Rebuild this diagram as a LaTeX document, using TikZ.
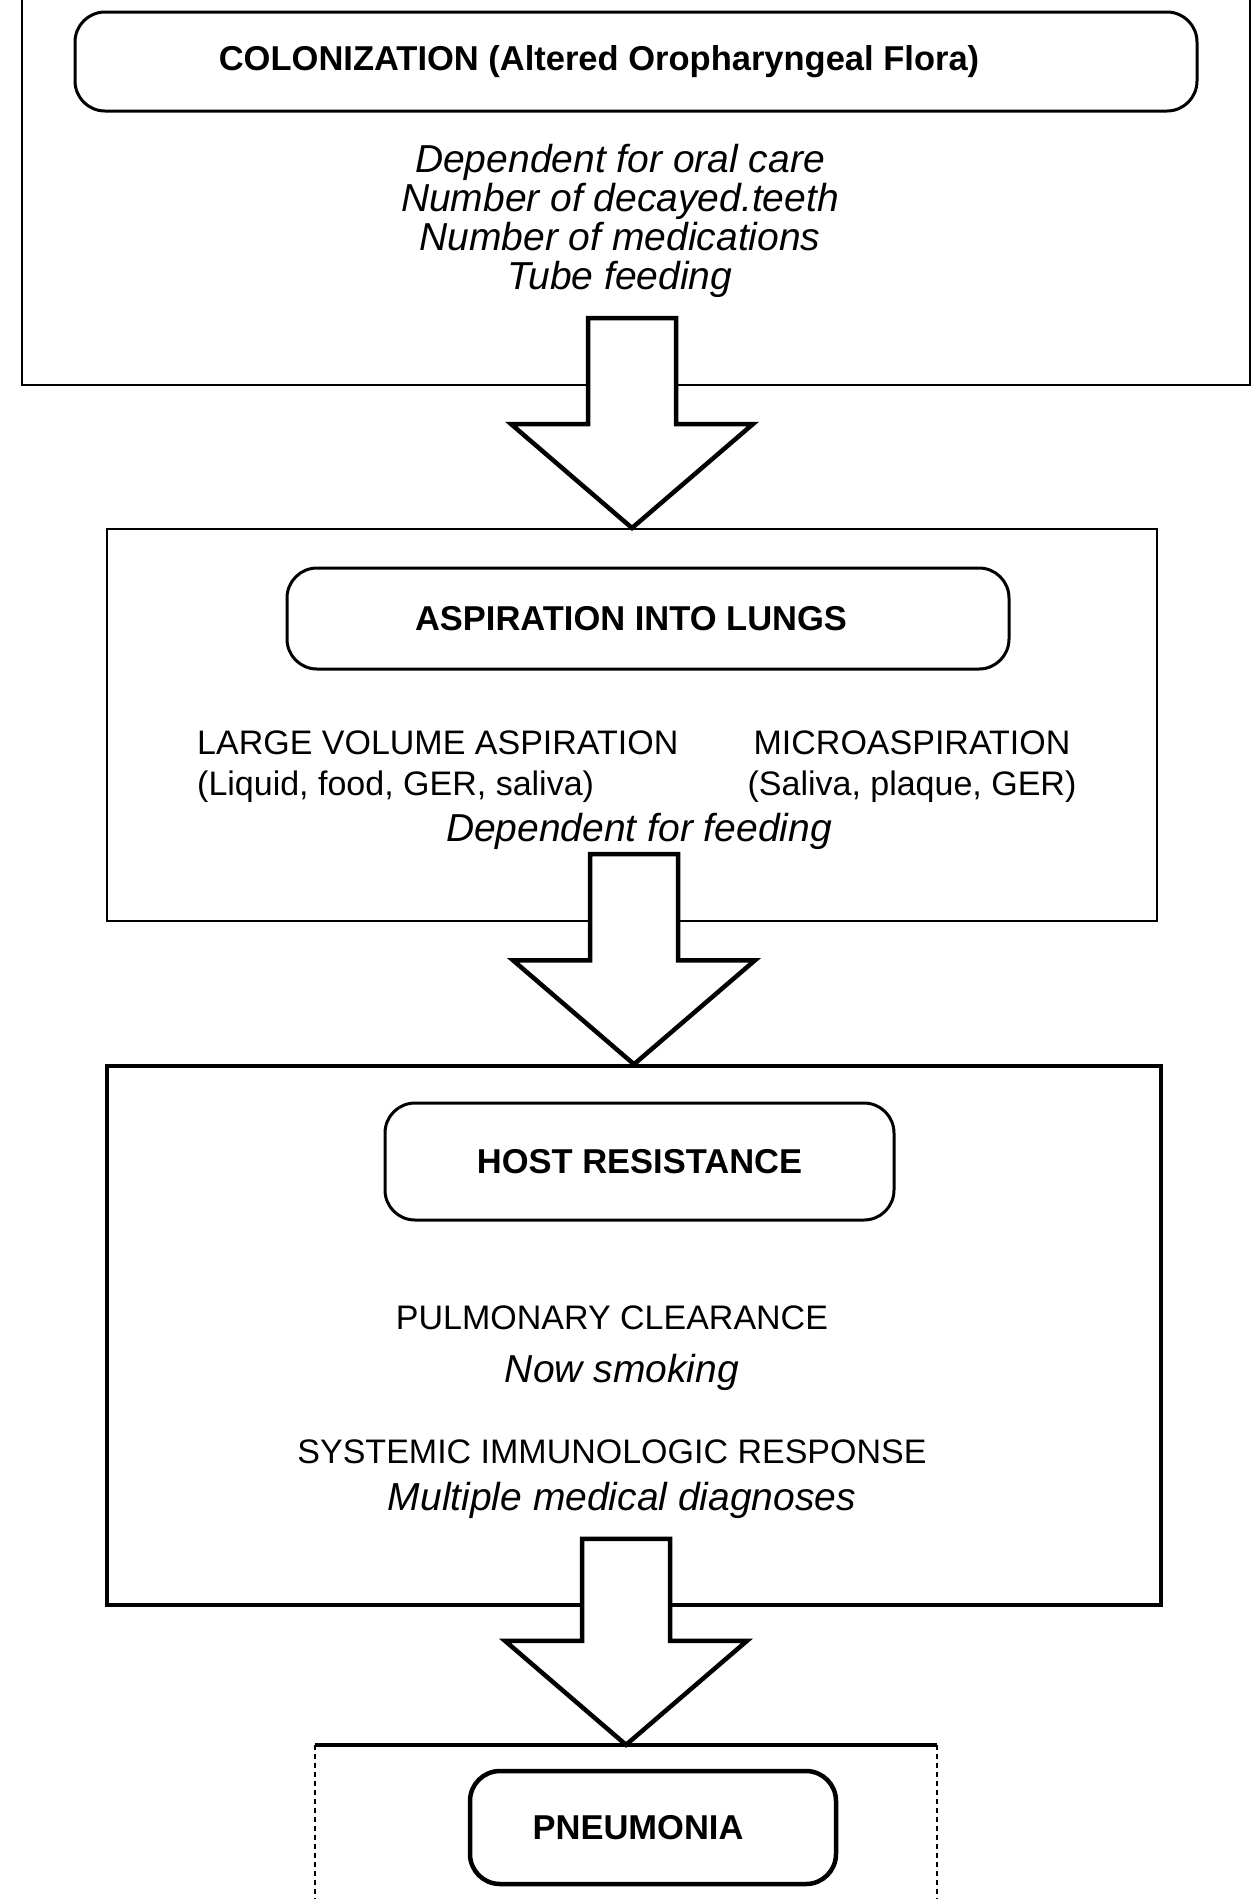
\documentclass[tikz,border=0pt]{standalone}
\usepackage{fontspec}
\setmainfont{Liberation Sans}
\usepackage{tikz}
\usetikzlibrary{positioning,calc}

% hollow block arrow from one stage frame down to the next
\newcommand{\fatarrow}[2]{%
  \draw[fat] ($(#2.north |- #1.south)+(-44,-68)$) -- ($(#2.north)+(-44,-104)$)
    -- ++(-77,0) -- (#2.north) -- ++(121,-104) -- ++(-77,0)
    -- ($(#2.north |- #1.south)+(44,-68)$) -- cycle;}

\begin{document}
\begin{tikzpicture}[x=1pt,y=-1pt,
  frame/.style={draw,line width=2pt},
  stage/.style={draw,line width=3pt,rounded corners=30pt,fill=white,
    font=\fontsize{34.5}{40}\selectfont\bfseries},
  caps/.style={inner sep=0pt,align=center,font=\fontsize{34}{41}\selectfont},
  note/.style={inner sep=0pt,align=center,font=\fontsize{39}{39}\selectfont\itshape},
  fat/.style={draw,fill=white,line width=4.5pt,line join=miter}
]
\useasboundingbox (0,0) rectangle (1254,1899);

% outer frames
\node[frame,minimum width=1228,minimum height=389] (colframe) at (636,190.5) {};
\node[frame,minimum width=1050,minimum height=392] (aspframe) at (632,725) {};
\node[frame,line width=3.5pt,minimum width=1054,minimum height=539] (hostframe) at (634,1335.5) {};
\node[minimum width=622,minimum height=165] (pneuframe) at (626,1827.5) {};
\draw[line width=2pt,dash pattern=on 5pt off 4pt] (pneuframe.north west) -- (pneuframe.south west)
  (pneuframe.north east) -- (pneuframe.south east);
\draw[line width=3.5pt] (pneuframe.north west) -- (pneuframe.north east);

% arrows between stages
\fatarrow{colframe}{aspframe}
\fatarrow{aspframe}{hostframe}
\fatarrow{hostframe}{pneuframe}

% colonization
\node[stage,minimum width=1122,minimum height=99] (colon) at (636,61.5) {COLONIZATION (Altered Oropharyngeal Flora)\hspace*{74pt}};
\node[note] (colrisk) at (620,221) {Dependent for oral care\\Number of decayed.teeth\\Number of medications\\Tube feeding};

% aspiration
\node[stage,minimum width=722,minimum height=101] (asp) at (648,618.5) {ASPIRATION INTO LUNGS\hspace*{34pt}};
\node[caps,align=left,anchor=west] (large) at (197,767) {LARGE VOLUME ASPIRATION\\(Liquid, food, GER, saliva)};
\node[caps] (micro) at (912,767) {MICROASPIRATION\\(Saliva, plaque, GER)};
\node[note] (feedrisk) at (639,831) {Dependent for feeding};

% host resistance
\node[stage,minimum width=509,minimum height=117] (host) at (639.5,1161.5) {HOST RESISTANCE};
\node[caps] (pulm) at (612,1318) {PULMONARY CLEARANCE};
\node[note] (smoke) at (622,1372) {Now smoking};
\node[caps] (immune) at (612,1452) {SYSTEMIC IMMUNOLOGIC RESPONSE};
\node[note] (diag) at (622,1500) {Multiple medical diagnoses};

% outcome
\node[stage,line width=4.5pt,minimum width=366,minimum height=113] (pneu) at (653,1827.5) {PNEUMONIA\hspace*{30pt}};
\end{tikzpicture}
\end{document}
